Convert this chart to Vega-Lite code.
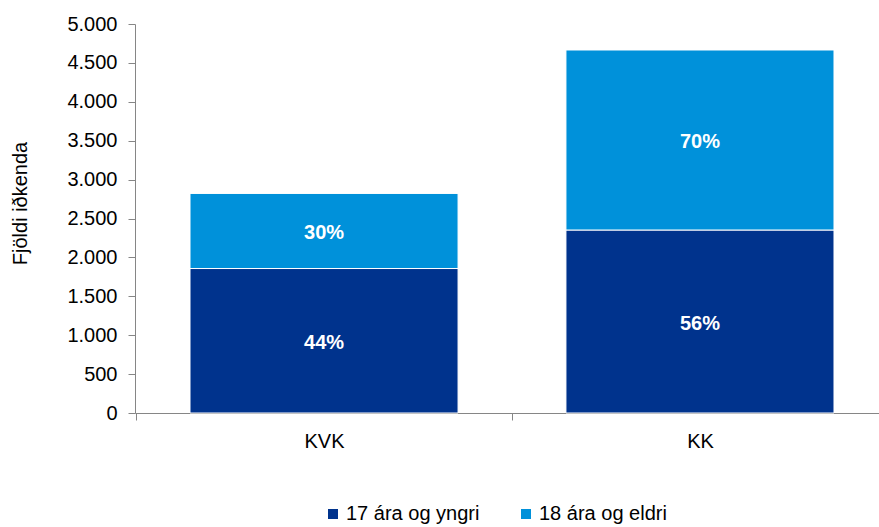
{
  "$schema": "https://vega.github.io/schema/vega-lite/v6.json",
  "autosize": {"type": "none"},
  "padding": {"left": 135, "top": 24, "right": 0, "bottom": 114},
  "width": 744,
  "height": 389,
  "background": "white",
  "config": {
    "view": {"stroke": null},
    "font": "Liberation Sans",
    "axis": {"grid": false, "domainColor": "#868686", "tickColor": "#868686", "labelColor": "#000000", "titleColor": "#000000", "labelFont": "Liberation Sans", "titleFont": "Liberation Sans"},
    "axisY": {"title": "Fjöldi iðkenda", "titleFontSize": 20, "titleFontWeight": "normal", "titlePadding": 36, "titleY": 179, "labelFontSize": 20, "labelPadding": 11, "tickSize": 7, "labelOverlap": false, "values": [0, 500, 1000, 1500, 2000, 2500, 3000, 3500, 4000, 4500, 5000], "format": ",d", "labelExpr": "replace(datum.label, ',', '.')"}
  },
  "data": {
    "values": [
      {"club": "KVK", "group": "17 ára og yngri", "order": 1, "count": 1857, "label": "44%"},
      {"club": "KVK", "group": "18 ára og eldri", "order": 2, "count": 965, "label": "30%"},
      {"club": "KK", "group": "17 ára og yngri", "order": 1, "count": 2352, "label": "56%"},
      {"club": "KK", "group": "18 ára og eldri", "order": 2, "count": 2314, "label": "70%"}
    ]
  },
  "transform": [
    {"stack": "count", "groupby": ["club"], "sort": [{"field": "order"}], "as": ["y0", "y1"]},
    {"calculate": "(datum.y0 + datum.y1) / 2", "as": "ymid"}
  ],
  "encoding": {
    "x": {
      "field": "club", "type": "nominal", "sort": ["KVK", "KK"],
      "scale": {"paddingInner": 0.287, "paddingOuter": 0.133, "align": 0.55},
      "axis": {"title": null, "labelAngle": 0, "labelFontSize": 20, "labelPadding": 11, "tickSize": 7, "tickOffset": -188, "labelOffset": 188, "domainWidth": 1}
    }
  },
  "layer": [
    {
      "mark": {"type": "bar", "stroke": "white", "strokeWidth": 1},
      "encoding": {
        "y": {
          "field": "y1", "type": "quantitative",
          "scale": {"domain": [0, 5000], "nice": false},
          "title": "Fjöldi iðkenda"
        },
        "y2": {"field": "y0"},
        "color": {
          "field": "group", "type": "nominal",
          "scale": {"domain": ["17 ára og yngri", "18 ára og eldri"], "range": ["#00338D", "#0091DA"]},
          "legend": {"title": null, "orient": "none", "direction": "horizontal", "legendX": 188, "legendY": 480, "symbolType": "square", "symbolSize": 100, "symbolStrokeWidth": 0, "labelFontSize": 20, "labelColor": "#000000", "columnPadding": 36, "labelOffset": 3}
        }
      }
    },
    {
      "mark": {"type": "text", "color": "white", "fontWeight": "bold", "fontSize": 20, "baseline": "middle", "dy": 2, "font": "Liberation Sans"},
      "encoding": {
        "y": {"field": "ymid", "type": "quantitative", "title": "Fjöldi iðkenda"},
        "text": {"field": "label"}
      }
    }
  ]
}
